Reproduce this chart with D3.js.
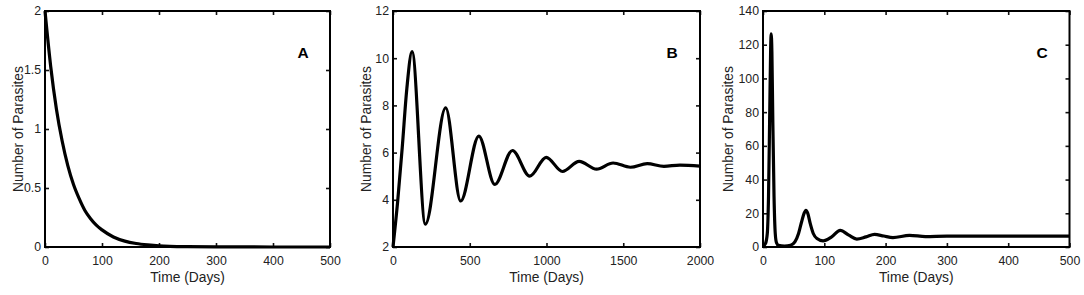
<!DOCTYPE html>
<html>
<head>
<meta charset="utf-8">
<script src="https://cdn.jsdelivr.net/npm/d3@7"></script>
<style>
  html, body { margin: 0; padding: 0; background: #fff; }
  svg { display: block; }
  text { font-family: "Liberation Sans", Arial, sans-serif; fill: #222; }
</style>
</head>
<body>
<svg id="chart" width="1084" height="295"></svg>
<script>
// ---- Panel A data ----
const aTime   = [0, 10, 20, 30, 40, 50, 60, 70, 80, 90, 100, 120, 140, 160, 180, 200, 250, 300, 400, 500];
const aValues = [2.0, 1.53, 1.17, 0.90, 0.69, 0.53, 0.41, 0.31, 0.24, 0.185, 0.145, 0.085, 0.05, 0.03, 0.018, 0.01, 0.003, 0.001, 0.0, 0.0];
const aXTicks = [0, 100, 200, 300, 400, 500];
const aYTicks = [0, 0.5, 1, 1.5, 2];

// ---- Panel B data ----
const bTime   = [0, 30, 60, 90, 124, 211, 343, 441, 559, 663, 778, 891, 998, 1104, 1213, 1326, 1434, 1547, 1656, 1765, 1869, 2000];
const bValues = [2.0, 3.9, 6.2, 8.7, 10.28, 2.97, 7.9, 3.95, 6.7, 4.65, 6.09, 5.0, 5.8, 5.2, 5.63, 5.3, 5.56, 5.38, 5.53, 5.42, 5.47, 5.43];
const bXTicks = [0, 500, 1000, 1500, 2000];
const bYTicks = [2, 4, 6, 8, 10, 12];

// ---- Panel C data ----
const cTime   = [0, 4, 7, 9, 11, 12.5, 13.3, 14.5, 16, 18, 20, 22, 25, 35, 45, 52, 58, 63, 67, 70, 73, 77, 82, 88, 98, 112, 126, 140, 153, 168, 182, 197, 212, 239, 265, 300, 400, 500];
const cValues = [0.5, 2, 8, 30, 80, 118, 126.5, 116, 75, 30, 8, 2.5, 1, 0.5, 1, 3, 8, 15, 20, 21.8, 20, 14, 8, 5, 3.6, 6, 9.9, 7, 4.7, 6, 7.5, 6.5, 5.6, 6.9, 6.2, 6.4, 6.4, 6.4];
const cXTicks = [0, 100, 200, 300, 400, 500];
const cYTicks = [0, 20, 40, 60, 80, 100, 120, 140];

const panelLabels = ["A", "B", "C"];

const panels = [
  { t: aTime, v: aValues, xd: [0, 500], yd: [0, 2], xt: aXTicks, yt: aYTicks,
    x0: 45, x1: 330, yTitleX: 18, label: panelLabels[0], labX: 303 },
  { t: bTime, v: bValues, xd: [0, 2000], yd: [2, 12], xt: bXTicks, yt: bYTicks,
    x0: 393, x1: 700, yTitleX: 366, label: panelLabels[1], labX: 672 },
  { t: cTime, v: cValues, xd: [0, 500], yd: [0, 140], xt: cXTicks, yt: cYTicks,
    x0: 763, x1: 1069.5, yTitleX: 728.5, label: panelLabels[2], labX: 1042 }
];

const plotTop = 11, plotBottom = 247;
const svg = d3.select("#chart");

panels.forEach(p => {
  const x = d3.scaleLinear().domain(p.xd).range([p.x0, p.x1]);
  const y = d3.scaleLinear().domain(p.yd).range([plotBottom, plotTop]);
  const g = svg.append("g");
  const fmt = d => String(d);

  const axB = g.append("g").attr("transform", `translate(0,${plotBottom})`)
    .call(d3.axisBottom(x).tickValues(p.xt).tickFormat(fmt).tickSizeInner(-4).tickSizeOuter(0).tickPadding(9));
  const axT = g.append("g").attr("transform", `translate(0,${plotTop})`)
    .call(d3.axisTop(x).tickValues(p.xt).tickFormat("").tickSizeInner(-4).tickSizeOuter(0));
  const axL = g.append("g").attr("transform", `translate(${p.x0},0)`)
    .call(d3.axisLeft(y).tickValues(p.yt).tickFormat(fmt).tickSizeInner(-4).tickSizeOuter(0).tickPadding(4));
  const axR = g.append("g").attr("transform", `translate(${p.x1},0)`)
    .call(d3.axisRight(y).tickValues(p.yt).tickFormat("").tickSizeInner(-4).tickSizeOuter(0));
  [axB, axT, axL, axR].forEach(a => {
    a.select(".domain").remove();
    a.selectAll(".tick line").attr("stroke", "#111").attr("stroke-width", 1.6);
    a.selectAll(".tick text").attr("font-size", 12.3).attr("fill", "#222")
      .attr("font-family", '"Liberation Sans", Arial, sans-serif');
  });

  const line = d3.line().x((d, i) => x(p.t[i])).y(d => y(d)).curve(d3.curveMonotoneX);
  g.append("path").datum(p.v).attr("d", line)
    .attr("fill", "none").attr("stroke", "#000").attr("stroke-width", 3.2)
    .attr("stroke-linejoin", "round");

  g.append("rect").attr("x", p.x0).attr("y", plotTop)
    .attr("width", p.x1 - p.x0).attr("height", plotBottom - plotTop)
    .attr("fill", "none").attr("stroke", "#000").attr("stroke-width", 2);

  g.append("text").attr("x", (p.x0 + p.x1) / 2).attr("y", 282)
    .attr("text-anchor", "middle").attr("font-size", 13.8).text("Time (Days)");

  g.append("text")
    .attr("transform", `translate(${p.yTitleX},${(plotTop + plotBottom) / 2}) rotate(-90)`)
    .attr("text-anchor", "middle").attr("dy", "0.35em").attr("font-size", 13.8)
    .text("Number of Parasites");

  g.append("text").attr("x", p.labX).attr("y", 52).attr("dy", "0.36em")
    .attr("text-anchor", "middle").attr("font-size", 15.5).attr("font-weight", "bold")
    .style("fill", "#000").text(p.label);
});
</script>
</body>
</html>
